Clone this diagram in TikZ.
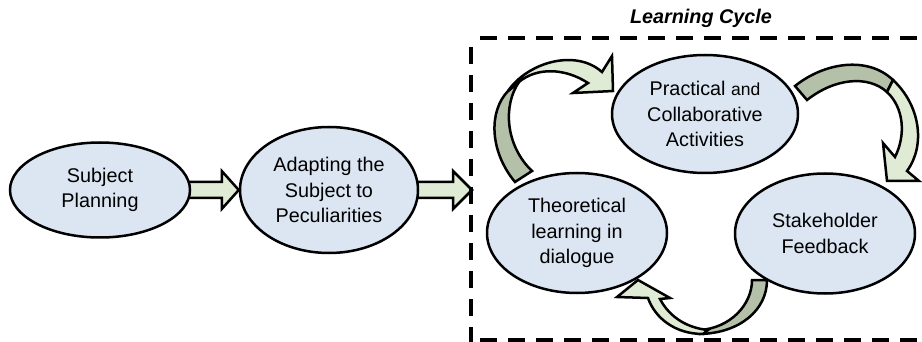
\documentclass[tikz,border=0pt]{standalone}
\usepackage{fontspec}
\setmainfont{Liberation Sans}
\usetikzlibrary{shapes.geometric,calc,backgrounds}
\definecolor{ellfill}{HTML}{DCE6F2}
\definecolor{lightgr}{HTML}{E0EBD5}
\definecolor{darkgr}{HTML}{B4C1A8}
\begin{document}
\begin{tikzpicture}[x=1pt,y=-1pt,
  ell/.style={ellipse,draw=black,line width=2.5pt,fill=ellfill,inner sep=0pt,
    align=center,font=\fontsize{19.8}{25.5}\selectfont},
  blockarr/.style={draw=black,line width=2.5pt,fill=lightgr,line join=miter},
  curvelight/.style={draw=black,line width=2.5pt,fill=lightgr,line join=miter,miter limit=6},
  curvedark/.style={draw=black,line width=2.5pt,fill=darkgr,line join=miter,miter limit=6},
  frame/.style={line width=3.5pt,dash pattern=on 17pt off 11pt,dash phase=19pt}
]
\useasboundingbox (0,0) rectangle (922,342);
\clip (0,0) rectangle (922,342);

% nodes
\node[ell,minimum width=180pt,minimum height=95pt] (sp) at (100,190) {Subject\\Planning};
\node[ell,minimum width=178pt,minimum height=126pt] (ad) at (329,190) {Adapting the\\Subject to\\Peculiarities};
\node[ell,minimum width=186pt,minimum height=118pt] (pc) at (705,114) {Practical {\fontsize{17.5}{25.5}\selectfont and}\\Collaborative\\Activities};
\node[ell,minimum width=180pt,minimum height=120pt] (th) at (577,233) {Theoretical\\learning in\\dialogue};
\node[ell,minimum width=180pt,minimum height=120pt] (st) at (825,233.5) {Stakeholder\\Feedback};
\node[font=\fontsize{19.8}{22}\selectfont\bfseries\itshape] (lc) at (701,18) {Learning Cycle};

\coordinate (tip2) at (472,190);

% dashed frame
\draw[frame] (471,38) -- (945,38);
\draw[frame] (471,38) -- (471,350);
\draw[frame] (471,340) -- (945,340);

\begin{scope}[on background layer]
% block arrows
\draw[blockarr] ($(sp.east)+(-4,-8)$) -- ($(ad.west)+(-17,-8)$) -- ($(ad.west)+(-17,-19)$)
  -- (ad.west) -- ($(ad.west)+(-17,19)$) -- ($(ad.west)+(-17,8)$) -- ($(sp.east)+(-4,8)$) -- cycle;
\draw[blockarr] ($(ad.east)+(-4,-8)$) -- ($(tip2)+(-19,-8)$) -- ($(tip2)+(-19,-19)$)
  -- (tip2) -- ($(tip2)+(-19,19)$) -- ($(tip2)+(-19,8)$) -- ($(ad.east)+(-4,8)$) -- cycle;

% curved arrow: Theoretical -> Practical
\draw[curvedark] (515,182) .. controls (490,152) and (488,112) .. (508,91)
  -- (519,82) .. controls (503,105) and (505,145) .. (532,171) -- cycle;
\draw[curvelight] (508,91) .. controls (527,63) and (575,48) .. (602,72)
  -- (612,56) -- (613,91) -- (573,93) -- (588,83)
  .. controls (565,68) and (537,67) .. (519,82) -- cycle;

% curved arrow: Practical -> Stakeholder
\draw[curvedark] (795,86) .. controls (825,62) and (868,56) .. (893,80) -- (887,92)
  .. controls (868,75) and (835,78) .. (807,100) -- cycle;
\draw[curvelight] (893,80) .. controls (920,105) and (926,145) .. (907,171)
  -- (919,181) -- (887,181) -- (883,143) -- (895,157)
  .. controls (906,135) and (904,108) .. (887,92) -- cycle;

% curved arrow: Stakeholder -> Theoretical
\draw[curvedark] (752,280) -- (767,280) .. controls (767,310) and (740,333) .. (700,334)
  -- (700,330) .. controls (730,328) and (752,305) .. (752,280) -- cycle;
\draw[curvelight] (703,334) .. controls (675,334) and (655,318) .. (648,298)
  -- (617,297) -- (638,280) -- (670,298) -- (660,299)
  .. controls (670,318) and (688,328) .. (708,330) -- cycle;
\end{scope}
\end{tikzpicture}
\end{document}
